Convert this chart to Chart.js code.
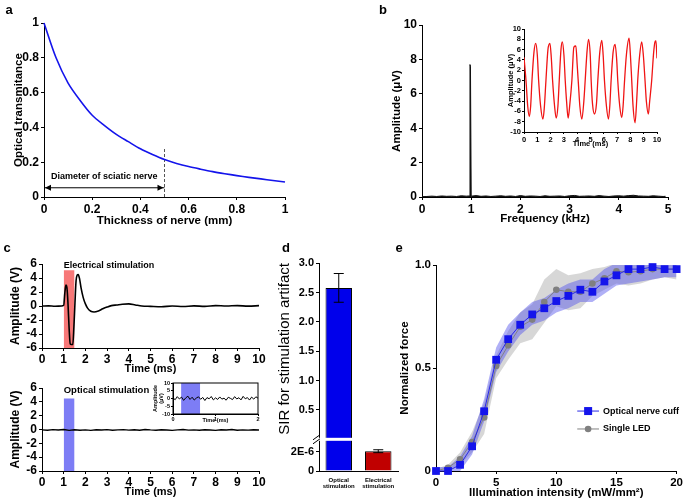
<!DOCTYPE html>
<html>
<head>
<meta charset="utf-8">
<script src="https://cdn.jsdelivr.net/npm/chart.js@4.4.0/dist/chart.umd.min.js"></script>
<style>
  html, body { margin: 0; padding: 0; background: #fff; }
  #page { position: relative; width: 685px; height: 502px; overflow: hidden; background: #fff; }
  #page canvas { position: absolute; left: 0; top: 0; }
  .tag { position: absolute; font: bold 13px 'Liberation Sans', Arial, sans-serif; transform: translate(-50%, -50%); }
</style>
</head>
<body>
<div id="page">
  <canvas id="chartA" width="685" height="502"></canvas>
  <canvas id="chartB" width="685" height="502"></canvas>
  <canvas id="chartBin" width="685" height="502"></canvas>
  <canvas id="chartC1" width="685" height="502"></canvas>
  <canvas id="chartC2" width="685" height="502"></canvas>
  <canvas id="chartCin" width="685" height="502"></canvas>
  <canvas id="chartD" width="685" height="502"></canvas>
  <canvas id="chartE" width="685" height="502"></canvas>
  <div class="tag" style="left:9px;top:9px">a</div>
  <div class="tag" style="left:383px;top:9px">b</div>
  <div class="tag" style="left:7px;top:247px">c</div>
  <div class="tag" style="left:286px;top:247px">d</div>
  <div class="tag" style="left:399px;top:247px">e</div>
</div>
<script>
// ---- a: optical transmittance vs nerve thickness
const thickness = [0, 0.05, 0.1, 0.15, 0.2, 0.25, 0.3, 0.35, 0.4, 0.45, 0.5, 0.55, 0.6, 0.65, 0.7, 0.75, 0.8, 0.85, 0.9, 0.95, 1.0];
const transmittance = [1.0, 0.80, 0.655, 0.555, 0.47, 0.412, 0.36, 0.318, 0.277, 0.244, 0.215, 0.193, 0.175, 0.16, 0.146, 0.134, 0.123, 0.113, 0.104, 0.095, 0.086];
const nerveDiameter = 0.5;
const dashTop = 0.28;
const arrowLevel = 0.053;

// ---- b: spectrum + time trace inset
const specFreq = [0, 0.1, 0.2, 0.3, 0.4, 0.5, 0.6, 0.7, 0.8, 0.9, 0.96, 0.975, 0.985, 1.0,
  1.1, 1.2, 1.3, 1.4, 1.5, 1.6, 1.7, 1.8, 1.9, 2.0, 2.1, 2.2, 2.3, 2.4, 2.5, 2.6, 2.7, 2.8, 2.9, 3.0,
  3.1, 3.2, 3.3, 3.4, 3.5, 3.6, 3.7, 3.8, 3.9, 4.0, 4.1, 4.2, 4.3, 4.4, 4.5, 4.6, 4.7, 4.8, 4.9, 4.95];
const specAmp = [0.02, 0.03, 0.05, 0.03, 0.06, 0.04, 0.05, 0.03, 0.07, 0.05, 0.06, 7.7, 7.6, 0.05,
  0.08, 0.04, 0.06, 0.03, 0.05, 0.07, 0.04, 0.06, 0.03, 0.08, 0.04, 0.06, 0.05, 0.03, 0.07, 0.04, 0.05, 0.06, 0.03, 0.07,
  0.09, 0.04, 0.05, 0.06, 0.04, 0.08, 0.05, 0.03, 0.06, 0.07, 0.05, 0.08, 0.10, 0.06, 0.05, 0.04, 0.07, 0.05, 0.03, 0.04];
const waveTime = [0, 0.15, 0.28, 0.4, 0.5, 0.6, 0.75, 0.88, 1.0, 1.1, 1.25, 1.42, 1.52, 1.65, 1.8, 1.95, 2.05, 2.15,
  2.3, 2.42, 2.55, 2.65, 2.78, 2.88, 3.0, 3.1, 3.2, 3.32, 3.45, 3.6, 3.75, 3.9, 4.0, 4.1, 4.2, 4.35, 4.5, 4.6,
  4.75, 4.85, 4.98, 5.05, 5.15, 5.3, 5.45, 5.55, 5.7, 5.85, 5.95, 6.05, 6.2, 6.35, 6.45, 6.55, 6.7, 6.85, 6.97,
  7.05, 7.2, 7.35, 7.45, 7.55, 7.7, 7.9, 8.0, 8.1, 8.2, 8.35, 8.45, 8.55, 8.7, 8.85, 8.97, 9.1, 9.2, 9.35, 9.45,
  9.6, 9.75, 9.85, 9.92, 10.0];
const waveAmp = [4.5, 0, -5, -7, -5, 0, 5.5, 7.2, 5, 0, -5, -7.5, -5.5, 0, 6, 7.2, 4.5, 0,
  -5, -7.3, -5, 0, 6, 7.5, 5, 0, -4, -7.3, -4.5, 0, 6.5, 6.7, 3, -1, -5, -7.5, -4, 0,
  6, 8, 5, 0, -4.5, -6.5, -4.5, 0, 5.5, 7.8, 5, 0, -5, -7.5, -5, 0, 5.5, 7, 4,
  0, -5, -7.2, -5, -0.5, 5, 8.2, 5, 0, -5, -8.2, -5, 0, 5, 7.5, 5, 0, -4, -6.5, -4,
  0, 5.5, 7.5, 7.7, 4.3];

// ---- c: stimulation artifacts
const elecTime = [0, 0.3, 0.6, 0.9, 1.0, 1.05, 1.1, 1.15, 1.2, 1.25, 1.3, 1.35, 1.42, 1.47,
  1.52, 1.57, 1.62, 1.67, 1.73, 1.8, 1.9, 2.0, 2.1, 2.25, 2.4, 2.6, 2.8, 3.0, 3.2, 3.45,
  3.7, 4.0, 4.3, 4.6, 5.0, 5.5, 6.0, 6.5, 7.0, 7.5, 8.0, 8.5, 9.0, 9.5, 10];
const elecVolt = [0, 0.02, -0.03, 0, 0.1, 1.8, 3.0, 2.6, 0.2, -3.2, -5.4, -5.5, -5.5, -3.0,
  0.5, 3.6, 4.4, 4.5, 3.9, 2.6, 1.2, 0.3, -0.3, -0.75, -0.85, -0.7, -0.4, -0.15, 0.05, 0.15,
  0.25, 0.3, 0.15, 0.0, -0.05, -0.1, 0, -0.08, 0.02, -0.05, 0.05, 0, 0.05, -0.02, 0.05];
const optTime = [0, 0.25, 0.5, 0.75, 1, 1.25, 1.5, 1.75, 2, 2.25, 2.5, 2.75, 3, 3.25, 3.5, 3.75, 4, 4.25, 4.5, 4.75,
  5, 5.25, 5.5, 5.75, 6, 6.25, 6.5, 6.75, 7, 7.25, 7.5, 7.75, 8, 8.25, 8.5, 8.75, 9, 9.25, 9.5, 9.75, 10];
const optVolt = [-0.05, -0.1, -0.02, -0.08, 0.0, -0.12, -0.04, -0.1, -0.05, -0.12, -0.03, -0.08, -0.02, -0.1, -0.06,
  -0.02, -0.09, -0.04, -0.11, 0.0, -0.06, -0.1, -0.03, -0.08, -0.12, -0.05, -0.01, -0.09, -0.06, -0.1,
  -0.03, -0.07, -0.12, -0.04, -0.08, 0.0, -0.1, -0.05, -0.09, -0.03, -0.07];
const zoomTime = [0, 0.05, 0.1, 0.15, 0.2, 0.25, 0.3, 0.35, 0.4, 0.45, 0.5, 0.55, 0.6, 0.65, 0.7, 0.75, 0.8, 0.85, 0.9, 0.95,
  1.0, 1.05, 1.1, 1.15, 1.2, 1.25, 1.3, 1.35, 1.4, 1.45, 1.5, 1.55, 1.6, 1.65, 1.7, 1.75, 1.8, 1.85, 1.9, 1.95, 2.0];
const zoomVolt = [0.5, -0.8, 1.2, -0.3, 0.9, -1.2, 0.4, 1.5, -0.6, 0.8, -1.0, 0.3, 1.1, -0.5, 0.7, -1.3, 0.6, -0.2, 1.3, -0.9,
  0.4, -0.6, 1.0, -0.4, 0.2, -1.1, 0.8, 0.1, -0.7, 1.2, -0.3, 0.5, -0.9, 1.4, -0.2, 0.6, -1.0, 0.9, -0.4, 1.1, 0.2];
const stimWindow = [1.0, 1.5];
const elecBandTop = 5.1;
const optBandTop = 4.5;
const zoomStimWindow = [0.19, 0.64];

// ---- d: SIR bars on a broken axis
const sirLabels = [['Optical', 'stimulation'], ['Electrical', 'stimulation']];
const sirMean = [2.58, 2.05e-6];
const sirErr = [0.245, 0.15e-6];
const sirColors = ['rgb(0,0,235)', 'rgb(192,0,0)'];
const sirTickValues = [0, 2e-6, 0.5, 1.0, 1.5, 2.0, 2.5, 3.0];
const sirTickLabels = ['0', '2E-6', '0.5', '1.0', '1.5', '2.0', '2.5', '3.0'];

// ---- e: recruitment curves
const intensity = [0, 1, 2, 3, 4, 5, 6, 7, 8, 9, 10, 11, 12, 13, 14, 15, 16, 17, 18, 19, 20];
const cuffMean = [0, 0.0, 0.03, 0.12, 0.29, 0.54, 0.64, 0.71, 0.76, 0.79, 0.825, 0.85, 0.88, 0.87, 0.92, 0.95, 0.98, 0.98, 0.99, 0.98, 0.98];
const cuffLow = [-0.01, -0.01, 0.0, 0.08, 0.24, 0.48, 0.58, 0.66, 0.71, 0.73, 0.77, 0.79, 0.82, 0.82, 0.86, 0.90, 0.91, 0.92, 0.93, 0.94, 0.94];
const cuffHigh = [0.02, 0.02, 0.07, 0.17, 0.35, 0.60, 0.71, 0.77, 0.82, 0.84, 0.88, 0.91, 0.93, 0.93, 0.98, 1.01, 1.05, 1.03, 1.03, 1.02, 1.02];
const ledMean = [0, 0.016, 0.057, 0.14, 0.26, 0.51, 0.61, 0.70, 0.735, 0.82, 0.88, 0.87, 0.87, 0.91, 0.935, 0.97, 0.965, 0.97, 0.98, 0.98, 0.98];
const ledLow = [-0.01, 0.0, 0.03, 0.09, 0.18, 0.45, 0.54, 0.62, 0.64, 0.72, 0.80, 0.78, 0.79, 0.85, 0.88, 0.91, 0.90, 0.91, 0.93, 0.94, 0.93];
const ledHigh = [0.01, 0.03, 0.09, 0.19, 0.33, 0.56, 0.68, 0.77, 0.81, 0.93, 0.98, 0.95, 0.96, 0.98, 0.99, 1.01, 1.01, 1.02, 1.02, 1.03, 1.05];
const seriesNames = ['Optical nerve cuff', 'Single LED'];

// ------------------------------------------------------------------
const PAGE_W = 685, PAGE_H = 502;
const FAMILY = "'Liberation Sans', Arial, Helvetica, sans-serif";
Chart.defaults.font.family = FAMILY;
Chart.defaults.color = '#000';

function fnt(size, weight, lh) {
  return { family: FAMILY, size: size, weight: weight || 'bold', lineHeight: lh || 1.2 };
}
function pts(xs, ys) {
  return xs.map((x, i) => ({ x: x, y: ys[i] }));
}
const plainNum = v => String(+Number(v).toFixed(2));

function axis(o) {
  const noTicks = o.tl === 0;
  const a = {
    type: o.type || 'linear',
    border: { display: true, color: '#000', width: 1 },
    grid: { display: !noTicks, drawOnChartArea: false, drawTicks: !noTicks, tickLength: noTicks ? 0 : (o.tl || 3), color: '#000', lineWidth: 1 },
    ticks: { color: '#000', font: o.tickFont || fnt(o.tick), padding: o.pad === undefined ? 2 : o.pad, maxRotation: 0, minRotation: 0, autoSkip: false },
    title: { display: !!o.title, text: o.title || '', color: '#000', font: fnt(o.tsize, o.tweight), padding: 0, align: o.talign || 'center' },
    afterFit: o.fit
  };
  if (o.min !== undefined) a.min = o.min;
  if (o.max !== undefined) a.max = o.max;
  if (o.step !== undefined) a.ticks.stepSize = o.step;
  if (o.cb) a.ticks.callback = o.cb;
  if (o.afterBuildTicks) a.afterBuildTicks = o.afterBuildTicks;
  return a;
}

// box = plot area in page pixels plus centre lines of the two axis titles
function makeChart(id, box, type, data, xo, yo, plugins) {
  const padL = box.yTitle - box.yFont * 0.6;
  const padB = PAGE_H - (box.xTitle + box.xFont * 0.6);
  xo.fit = s => { s.height = PAGE_H - padB - box.bottom; };
  yo.fit = s => { s.width = box.left - padL; };
  return new Chart(document.getElementById(id), {
    type: type,
    data: data,
    options: {
      responsive: false,
      animation: false,
      devicePixelRatio: 1,
      layout: { padding: { left: padL, right: PAGE_W - box.right, top: box.top, bottom: padB } },
      plugins: { legend: { display: false }, tooltip: { enabled: false } },
      elements: { point: { radius: 0 } },
      scales: { x: axis(xo), y: axis(yo) }
    },
    plugins: plugins || []
  });
}

function boxFrame(id) {
  return {
    id: id,
    afterDraw(chart) {
      const { ctx, chartArea: c } = chart;
      ctx.save();
      ctx.strokeStyle = '#000';
      ctx.lineWidth = 1;
      ctx.strokeRect(c.left, c.top, c.right - c.left, c.bottom - c.top);
      ctx.restore();
    }
  };
}

function labelAt(id, text, xv, yv, size) {
  return {
    id: id,
    afterDatasetsDraw(chart) {
      const { ctx, scales } = chart;
      ctx.save();
      ctx.fillStyle = '#000';
      ctx.font = 'bold ' + size + 'px ' + FAMILY;
      ctx.textAlign = 'left';
      ctx.textBaseline = 'middle';
      ctx.fillText(text, scales.x.getPixelForValue(xv), scales.y.getPixelForValue(yv));
      ctx.restore();
    }
  };
}

// ---- panel a
const annotA = {
  id: 'annotA',
  afterDatasetsDraw(chart) {
    const { ctx, scales: { x, y } } = chart;
    const ya = y.getPixelForValue(arrowLevel);
    const x0 = x.getPixelForValue(0), x1 = x.getPixelForValue(nerveDiameter);
    ctx.save();
    ctx.fillStyle = '#000';
    ctx.beginPath(); ctx.moveTo(x0 + 1, ya); ctx.lineTo(x0 + 7, ya - 3); ctx.lineTo(x0 + 7, ya + 3); ctx.closePath(); ctx.fill();
    ctx.beginPath(); ctx.moveTo(x1 - 1, ya); ctx.lineTo(x1 - 7, ya - 3); ctx.lineTo(x1 - 7, ya + 3); ctx.closePath(); ctx.fill();
    ctx.font = 'bold 9px ' + FAMILY;
    ctx.textAlign = 'center';
    ctx.textBaseline = 'middle';
    ctx.fillText('Diameter of sciatic nerve', x.getPixelForValue(nerveDiameter / 2), y.getPixelForValue(0.12));
    ctx.restore();
  }
};

makeChart('chartA',
  { left: 44, right: 285, top: 23, bottom: 197, yTitle: 19, yFont: 11.5, xTitle: 220.7, xFont: 11.5 },
  'line',
  {
    datasets: [
      { data: pts(thickness, transmittance), borderColor: 'rgb(20,20,235)', borderWidth: 1.6, tension: 0.3, clip: false },
      { data: pts([nerveDiameter, nerveDiameter], [0, dashTop]), borderColor: '#555', borderWidth: 1, borderDash: [3, 2] },
      { data: pts([0, nerveDiameter], [arrowLevel, arrowLevel]), borderColor: '#000', borderWidth: 1 }
    ]
  },
  { min: 0, max: 1, step: 0.2, tick: 12, title: 'Thickness of nerve (mm)', tsize: 11.5, cb: plainNum },
  { min: 0, max: 1, step: 0.2, tick: 12, title: 'Optical transmitance', tsize: 11.5, cb: plainNum },
  [annotA]
);

// ---- panel b
makeChart('chartB',
  { left: 422, right: 668, top: 25, bottom: 197, yTitle: 396.7, yFont: 11.5, xTitle: 219, xFont: 11.5 },
  'line',
  {
    datasets: [
      { data: pts(specFreq, specAmp), borderColor: '#111', borderWidth: 1, fill: 'origin', backgroundColor: '#111' }
    ]
  },
  { min: 0, max: 5, step: 1, tick: 12, title: 'Frequency (kHz)', tsize: 11.5 },
  { min: 0, max: 10, step: 2, tick: 12, title: 'Amplitude (\u03bcV)', tsize: 11.5 }
);

makeChart('chartBin',
  { left: 524, right: 657, top: 29, bottom: 132, yTitle: 510.7, yFont: 7.5, xTitle: 144.3, xFont: 7.5 },
  'line',
  {
    datasets: [
      { data: pts(waveTime, waveAmp), borderColor: 'rgb(240,20,20)', borderWidth: 1.3, cubicInterpolationMode: 'monotone' }
    ]
  },
  { min: 0, max: 10, step: 1, tick: 7.5, tl: 2, pad: 1, title: 'Time (ms)', tsize: 7.5 },
  { min: -10, max: 10, step: 2, tick: 7.5, tl: 2, pad: 1, title: 'Amplitude (\u03bcV)', tsize: 7.5 }
);

// ---- panel c
makeChart('chartC1',
  { left: 42, right: 259, top: 264, bottom: 348, yTitle: 16, yFont: 12, xTitle: 368.7, xFont: 11 },
  'line',
  {
    datasets: [
      { data: pts(elecTime, elecVolt), borderColor: '#000', borderWidth: 1.6, cubicInterpolationMode: 'monotone', order: 1 },
      { data: pts(stimWindow, [elecBandTop, elecBandTop]), borderWidth: 0, fill: 'start', backgroundColor: 'rgb(247,120,120)', order: 2 }
    ]
  },
  { min: 0, max: 10, step: 1, tick: 12, pad: 1, title: 'Time (ms)', tsize: 11 },
  { min: -6, max: 6, step: 2, tick: 12, title: 'Amplitude (V)', tsize: 12 },
  [labelAt('labC1', 'Electrical stimulation', stimWindow[0], 5.75, 9)]
);

makeChart('chartC2',
  { left: 42, right: 259, top: 388, bottom: 471, yTitle: 16, yFont: 12, xTitle: 491.7, xFont: 11 },
  'line',
  {
    datasets: [
      { data: pts(optTime, optVolt), borderColor: '#000', borderWidth: 1.4, order: 1 },
      { data: pts(stimWindow, [optBandTop, optBandTop]), borderWidth: 0, fill: 'start', backgroundColor: 'rgb(125,125,245)', order: 2 }
    ]
  },
  { min: 0, max: 10, step: 1, tick: 12, pad: 1, title: 'Time (ms)', tsize: 11 },
  { min: -6, max: 6, step: 2, tick: 12, title: 'Amplitude (V)', tsize: 12 },
  [labelAt('labC2', 'Optical stimulation', stimWindow[0], 5.6, 9.5)]
);

makeChart('chartCin',
  { left: 173, right: 258, top: 383, bottom: 414, yTitle: 155, yFont: 5.5, xTitle: 420, xFont: 5.5 },
  'line',
  {
    datasets: [
      { data: pts(zoomTime, zoomVolt), borderColor: '#000', borderWidth: 1, order: 1 },
      { data: pts(zoomStimWindow, [10, 10]), borderWidth: 0, fill: 'start', backgroundColor: 'rgb(125,125,245)', order: 2 }
    ]
  },
  { min: 0, max: 2, step: 1, tick: 5.5, tl: 2, pad: 0, title: 'Time (ms)', tsize: 5.5 },
  { min: -10, max: 10, step: 5, tick: 5.5, tl: 2, pad: 1, title: ['Amplitude', '(\u03bcV)'], tsize: 5.5 },
  [boxFrame('boxCin')]
);

// ---- panel d (broken y axis: low segment in 1E-6 units, high segment linear)
const BREAK_V = 0.54;
const LOW_SCALE = 1.645e5;
const D_MAX = 3.544;
function toAxis(v) { return v < 0.01 ? v * LOW_SCALE : BREAK_V + v; }

const extrasD = {
  id: 'extrasD',
  afterDatasetsDraw(chart) {
    const { ctx, chartArea: c, scales: { y } } = chart;
    const meta = chart.getDatasetMeta(0);
    ctx.save();
    ctx.strokeStyle = '#000';
    ctx.lineWidth = 1;
    meta.data.forEach((bar, i) => {
      const top = y.getPixelForValue(toAxis(sirMean[i] + sirErr[i]));
      const bot = y.getPixelForValue(toAxis(sirMean[i] - sirErr[i]));
      const cap = 5;
      ctx.beginPath();
      ctx.moveTo(bar.x, top); ctx.lineTo(bar.x, bot);
      ctx.moveTo(bar.x - cap, top); ctx.lineTo(bar.x + cap, top);
      ctx.moveTo(bar.x - cap, bot); ctx.lineTo(bar.x + cap, bot);
      ctx.stroke();
    });
    const yb = y.getPixelForValue(BREAK_V);
    ctx.fillStyle = '#fff';
    ctx.fillRect(c.left - 2, yb - 1.5, c.right - c.left + 2, 3);
    [-2, 2].forEach(dy => {
      ctx.beginPath();
      ctx.moveTo(c.left - 6, yb + dy + 2.5);
      ctx.lineTo(c.left + 1, yb + dy - 2.5);
      ctx.stroke();
    });
    ctx.restore();
  }
};

makeChart('chartD',
  { left: 319, right: 398, top: 263, bottom: 471, yTitle: 285, yFont: 15, xTitle: 497.2, xFont: 8 },
  'bar',
  {
    labels: sirLabels,
    datasets: [
      { data: sirMean.map(toAxis), backgroundColor: sirColors, borderColor: '#000', borderWidth: 1, barPercentage: 0.67, categoryPercentage: 1 }
    ]
  },
  { type: 'category', tl: 0, pad: 6, tickFont: fnt(6, 'bold', 1.05) },
  {
    min: 0, max: D_MAX, tick: 11, title: 'SIR for stimulation artifact', tsize: 15, tweight: 'normal', talign: 'end',
    afterBuildTicks: s => { s.ticks = sirTickValues.map(v => ({ value: toAxis(v) })); },
    cb: (v, i) => sirTickLabels[i]
  },
  [extrasD]
);

// ---- panel e
const legendE = {
  id: 'legendE',
  afterDatasetsDraw(chart) {
    const { ctx, scales: { x, y } } = chart;
    const xa = x.getPixelForValue(11.74), xb = x.getPixelForValue(13.55), xm = (xa + xb) / 2;
    const rows = [
      { y: y.getPixelForValue(0.291), line: 'rgb(40,40,230)', fill: 'rgb(20,20,235)', square: true },
      { y: y.getPixelForValue(0.204), line: 'rgb(130,130,130)', fill: 'rgb(128,128,128)', square: false }
    ];
    ctx.save();
    rows.forEach((r, i) => {
      ctx.strokeStyle = r.line;
      ctx.lineWidth = 1;
      ctx.beginPath(); ctx.moveTo(xa, r.y); ctx.lineTo(xb, r.y); ctx.stroke();
      ctx.fillStyle = r.fill;
      if (r.square) { ctx.fillRect(xm - 4, r.y - 4, 8, 8); }
      else { ctx.beginPath(); ctx.arc(xm, r.y, 3.3, 0, Math.PI * 2); ctx.fill(); }
      ctx.fillStyle = '#000';
      ctx.font = 'bold 9px ' + FAMILY;
      ctx.textAlign = 'left';
      ctx.textBaseline = 'middle';
      ctx.fillText(seriesNames[i], xb + 4, r.y);
    });
    ctx.restore();
  }
};

makeChart('chartE',
  { left: 436, right: 678, top: 265, bottom: 471, yTitle: 405, yFont: 11.5, xTitle: 493, xFont: 11.5 },
  'line',
  {
    datasets: [
      { data: pts(intensity, ledHigh), borderWidth: 0, fill: '+1', backgroundColor: 'rgba(150,150,150,0.38)', order: 4, clip: false },
      { data: pts(intensity, ledLow), borderWidth: 0, order: 4, clip: false },
      { data: pts(intensity, cuffHigh), borderWidth: 0, fill: '+1', backgroundColor: 'rgba(80,80,235,0.45)', order: 3, clip: false },
      { data: pts(intensity, cuffLow), borderWidth: 0, order: 3, clip: false },
      { data: pts(intensity, ledMean), borderColor: 'rgb(130,130,130)', borderWidth: 1, pointRadius: 3.3, pointStyle: 'circle',
        pointBackgroundColor: 'rgb(128,128,128)', pointBorderWidth: 0, order: 2, clip: false },
      { data: pts(intensity, cuffMean), borderColor: 'rgb(40,40,230)', borderWidth: 1, pointRadius: 5.5, pointStyle: 'rect',
        pointBackgroundColor: 'rgb(20,20,235)', pointBorderWidth: 0, order: 1, clip: false }
    ]
  },
  { min: 0, max: 20, step: 5, tick: 11.5, title: 'Illumination intensity (mW/mm\u00b2)', tsize: 11.5 },
  { min: 0, max: 1, step: 0.5, tick: 11.5, title: 'Normalized force', tsize: 11.5, cb: v => (v === 0 ? '0' : v.toFixed(1)) },
  [legendE]
);
</script>
</body>
</html>
